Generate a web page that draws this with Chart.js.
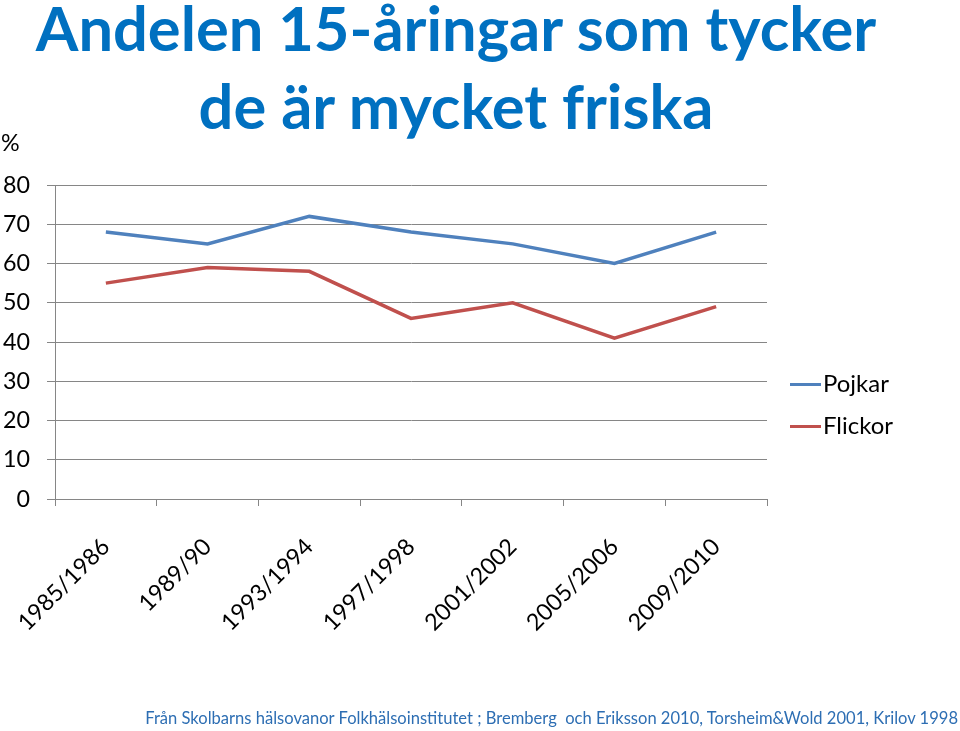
<!DOCTYPE html>
<html>
<head>
<meta charset="utf-8">
<script src="https://cdn.jsdelivr.net/npm/chart.js@4/dist/chart.umd.min.js"></script>
<style>
  html, body { margin: 0; padding: 0; background: #fff; }
  #wrap { position: relative; width: 960px; height: 731px; overflow: hidden; font-family: Lato, "Open Sans", sans-serif; }
  #c { position: absolute; left: 0; top: 0; }
  .t { position: absolute; white-space: pre; line-height: 1; }
  #title1, #title2 { color: #0070C0; font-weight: bold; left: 0; width: 912px; text-align: center; }
  #pct { left: 1px; top: 131px; color: #000; }
  #footer { color: #2D6EB3; right: 2px; top: 710px; }
  .leg { position: absolute; left: 790px; width: 31px; height: 3px; }
  .legt { left: 823px; color: #000; }
</style>
</head>
<body>
<div id="wrap">
  <canvas id="c" width="960" height="731"></canvas>
  <div class="t" id="title1">Andelen 15-åringar som tycker</div>
  <div class="t" id="title2">de är mycket friska</div>
  <div class="t" id="pct">%</div>
  <div class="leg" id="leg0"></div><div class="t legt" id="legt0"></div>
  <div class="leg" id="leg1"></div><div class="t legt" id="legt1"></div>
  <div class="t" id="footer">Från Skolbarns hälsovanor Folkhälsoinstitutet ; Bremberg  och Eriksson 2010, Torsheim&amp;Wold 2001, Krilov 1998</div>
</div>
<script>
const categories = ["1985/1986", "1989/90", "1993/1994", "1997/1998", "2001/2002", "2005/2006", "2009/2010"];
const pojkar = [68, 65, 72, 68, 65, 60, 68];
const flickor = [55, 59, 58, 46, 50, 41, 49];
const seriesNames = ["Pojkar", "Flickor"];
const seriesColors = ["#4F81BD", "#C0504D"];
const yTicks = [0, 10, 20, 30, 40, 50, 60, 70, 80];

const FAMILY = 'Lato, "Open Sans", sans-serif';
const mctx = document.createElement('canvas').getContext('2d');
function fitSize(text, width, weight) {
  mctx.font = (weight || 'normal') + ' 100px ' + FAMILY;
  return 100 * width / mctx.measureText(text).width;
}

const titleSize = fitSize("Andelen 15-åringar som tycker", 842, 'bold');
const t1 = document.getElementById('title1');
const t2 = document.getElementById('title2');
t1.style.fontSize = titleSize + 'px';
t2.style.fontSize = titleSize + 'px';
t1.style.top = (50 - titleSize * 0.86) + 'px';
t2.style.top = (128 - titleSize * 0.86) + 'px';

const footSize = fitSize(document.getElementById('footer').textContent, 815);
document.getElementById('footer').style.fontSize = footSize + 'px';

const tickSize = fitSize("80", 27);
document.getElementById('pct').style.fontSize = tickSize + 'px';

const legSize = fitSize("Flickor", 70);
const legY = [384, 426];
for (let i = 0; i < 2; i++) {
  const l = document.getElementById('leg' + i);
  l.style.background = seriesColors[i];
  l.style.top = (legY[i] - 1) + 'px';
  const lt = document.getElementById('legt' + i);
  lt.textContent = seriesNames[i];
  lt.style.fontSize = legSize + 'px';
  lt.style.top = (legY[i] - legSize * 0.55) + 'px';
}

const gridColor = '#868686';
new Chart(document.getElementById('c'), {
  type: 'line',
  data: {
    labels: categories,
    datasets: [
      { label: seriesNames[0], data: pojkar, borderColor: seriesColors[0], backgroundColor: seriesColors[0], borderWidth: 3.5, pointRadius: 0, tension: 0 },
      { label: seriesNames[1], data: flickor, borderColor: seriesColors[1], backgroundColor: seriesColors[1], borderWidth: 3.5, pointRadius: 0, tension: 0 }
    ]
  },
  options: {
    responsive: false,
    animation: false,
    devicePixelRatio: 1,
    layout: { padding: { left: 0, right: 193, top: 185, bottom: 92 } },
    plugins: { legend: { display: false }, title: { display: false }, tooltip: { enabled: false } },
    scales: {
      x: {
        offset: true,
        grid: { offset: true, drawOnChartArea: false, drawTicks: true, tickLength: 7, color: gridColor, lineWidth: 1 },
        border: { display: true, color: gridColor, width: 1 },
        ticks: {
          color: '#000', font: { family: FAMILY, size: tickSize }, maxRotation: 45, minRotation: 45, autoSkip: false, padding: 27
        },
        afterFit: (s) => { s.height = 140; s.paddingLeft = 0; s.paddingRight = 0; }
      },
      y: {
        min: 0, max: 80,
        afterBuildTicks: (s) => { s.ticks = yTicks.map(v => ({ value: v })); },
        grid: { color: gridColor, lineWidth: 1, tickLength: 8 },
        border: { display: true, color: gridColor, width: 1 },
        ticks: { color: '#000', font: { family: FAMILY, size: tickSize }, padding: 17 },
        afterFit: (s) => { s.width = 55; s.paddingTop = 0; s.paddingBottom = 0; }
      }
    }
  }
});
</script>
</body>
</html>
